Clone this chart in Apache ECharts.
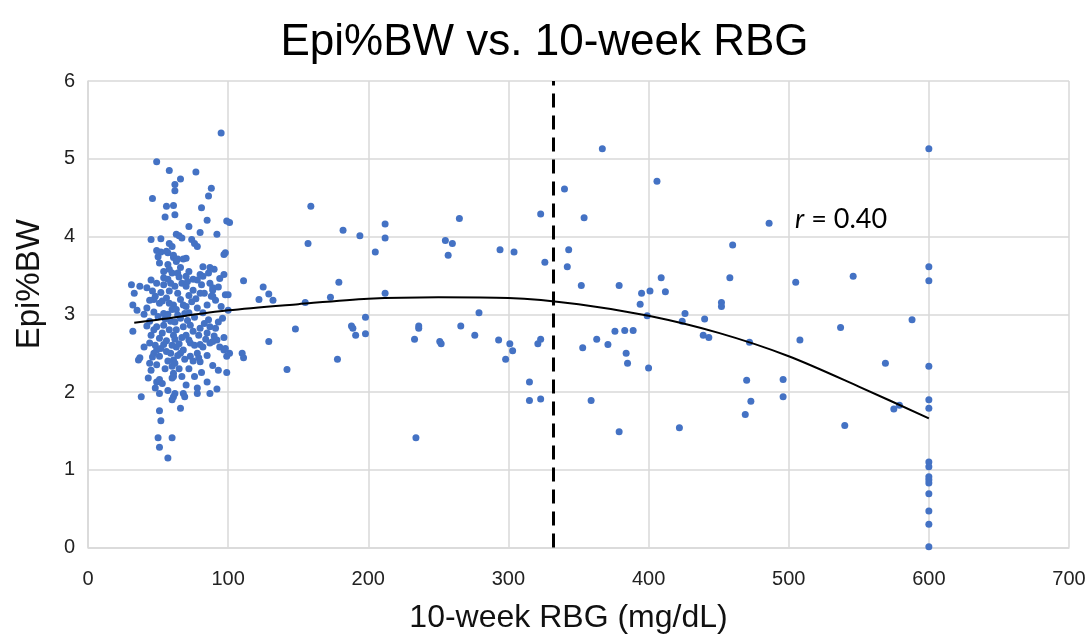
<!DOCTYPE html>
<html>
<head>
<meta charset="utf-8">
<script src="https://cdn.jsdelivr.net/npm/echarts@6/dist/echarts.min.js"></script>
<style>
html,body{margin:0;padding:0;background:#fff;}
#chart{width:1089px;height:636px;}
</style>
</head>
<body>
<div id="chart"></div>
<script>
// ---- data ----
const chartTitle = 'Epi%BW vs. 10-week RBG';
const xAxisName = '10-week RBG (mg/dL)';
const yAxisName = 'Epi%BW';
const xTicks = [0, 100, 200, 300, 400, 500, 600, 700];
const yTicks = [0, 1, 2, 3, 4, 5, 6];

// dense cluster, RBG < ~110
const clusterPoints = [
[95,5.33],[49,4.96],[58,4.85],[77,4.83],[66,4.74],[62,4.67],[62,4.59],[88,4.62],[86,4.52],[46,4.49],
[56,4.39],[61,4.40],[81,4.37],[55,4.25],[62,4.28],[85,4.21],[99,4.20],[101,4.18],[72,4.13],[45,3.96],
[52,3.97],[63,4.03],[65,4.01],[67,3.98],[80,4.05],[92,4.03],[58,3.91],[60,3.87],[74,3.96],[76,3.91],
[78,3.87],[97,3.77],[98,3.79],[52,3.80],[50,3.74],[57,3.79],[61,3.73],[64,3.71],[70,3.72],[68,3.71],
[82,3.61],[87,3.60],[49,3.82],[56,3.81],[61,3.76],[51,3.66],[57,3.64],[63,3.68],[54,3.55],[60,3.53],
[64,3.53],[70,3.49],[80,3.51],[86,3.53],[78,3.44],[82,3.49],[97,3.51],[94,3.46],[31,3.38],[37,3.36],
[42,3.34],[45,3.44],[49,3.40],[54,3.38],[59,3.40],[62,3.36],[67,3.40],[70,3.36],[75,3.31],[81,3.38],
[87,3.40],[89,3.31],[80,3.27],[98,3.25],[100,3.25],[32,3.12],[42,3.08],[47,3.19],[51,3.14],[56,3.21],
[61,3.12],[66,3.19],[70,3.10],[74,3.16],[78,3.08],[85,3.12],[88,3.23],[47,3.03],[54,3.01],[60,3.06],
[64,2.99],[69,3.01],[32,2.78],[44,2.91],[49,2.84],[54,2.86],[59,2.91],[63,2.80],[68,2.84],[73,2.86],
[80,2.82],[86,2.93],[87,2.84],[91,2.82],[45,2.73],[53,2.76],[61,2.73],[70,2.73],[79,2.73],[85,2.76],
[37,2.44],[44,2.63],[49,2.54],[54,2.61],[59,2.50],[63,2.58],[68,2.54],[73,2.63],[78,2.50],[82,2.58],
[87,2.63],[92,2.67],[97,2.54],[99,2.46],[101,2.50],[36,2.41],[47,2.50],[51,2.46],[44,2.37],[49,2.35],
[66,2.50],[73,2.46],[80,2.61],[89,2.65],[94,2.58],[98,2.56],[61,2.41],[43,2.18],[45,2.28],[49,2.13],
[51,2.16],[53,2.11],[48,2.05],[60,2.33],[61,2.24],[62,2.37],[60,2.18],[61,2.20],[67,2.20],[70,2.09],
[80,2.39],[81,2.25],[89,2.34],[93,2.28],[99,2.25],[85,2.13],[92,2.04],[87,1.98],[78,2.05],[78,1.98],
[68,1.98],[69,1.94],[61,1.94],[62,1.98],[60,1.90],[57,2.02],[51,1.98],[38,1.94],[66,1.79],[51,1.76],
[52,1.63],[50,1.41],[60,1.41],[51,1.29],[57,1.15],[33,3.27],[35,3.05],[89,3.34],[89,3.23],
[46,3.30],[52,3.28],[58,3.30],[64,3.27],[72,3.24],[77,3.20],[83,3.27],[91,3.18],
[48,3.23],[53,3.17],[58,3.14],[63,3.06],[68,3.12],[72,3.02],[76,2.96],[82,3.02],
[50,2.97],[55,2.94],[57,3.00],[62,2.90],[66,2.95],[71,2.92],[75,2.78],[83,2.88],
[47,2.80],[51,2.69],[56,2.66],[58,2.80],[62,2.68],[65,2.62],[67,2.70],[72,2.67],[76,2.60],[84,2.68],[90,2.72],
[48,2.60],[52,2.56],[56,2.52],[60,2.60],[64,2.47],[69,2.42],[75,2.40],[79,2.44],[85,2.47],
[54,3.47],[58,3.58],[66,3.60],[72,3.55],[75,3.45],[90,3.58],[93,3.35],[57,3.45],[65,3.48],[71,3.42],
[44,3.18],[40,3.00],[42,2.85],[40,2.58],[46,2.45],[55,2.30],[57,2.40],[65,2.30],[72,2.30],[76,2.20],
[96,2.95],[95,3.10],[100,3.05],[93,2.90],[97,2.70]
];

// scattered points, RBG ~110-330
const midPoints = [
[159,4.39],[111,3.43],[125,3.35],[122,3.19],[129,3.26],[132,3.18],[155,3.15],[157,3.91],[148,2.81],[129,2.65],
[110,2.50],[111,2.44],[142,2.29],[182,4.08],[194,4.01],[179,3.41],[173,3.22],[178,2.42],[188,2.85],[189,2.82],
[191,2.73],[198,2.96],[198,2.75],[212,4.16],[212,3.98],[205,3.80],[212,3.27],[234,1.41],[233,2.68],[236,2.85],
[236,2.82],[251,2.65],[252,2.62],[255,3.95],[260,3.91],[257,3.76],[265,4.23],[266,2.85],[279,3.02],[276,2.73],
[294,3.83],[304,3.80],[293,2.67],[301,2.62],[303,2.53],[298,2.42],[315,2.13],[315,1.89],[323,1.91],[321,2.62],
[323,2.68],[323,4.29],[326,3.67]
];

// scattered points, RBG ~330-600
const highPoints = [
[367,5.13],[340,4.61],[354,4.24],[406,4.71],[486,4.17],[460,3.89],[343,3.83],[342,3.61],[352,3.37],[379,3.37],
[409,3.47],[458,3.47],[395,3.27],[401,3.30],[412,3.29],[505,3.41],[546,3.49],[394,3.13],[452,3.15],[452,3.10],
[426,3.01],[440,2.94],[424,2.91],[399,2.98],[588,2.93],[537,2.83],[363,2.68],[376,2.78],[383,2.79],[389,2.79],
[353,2.57],[371,2.61],[439,2.73],[443,2.70],[472,2.64],[508,2.67],[384,2.50],[385,2.37],[400,2.31],[569,2.37],
[470,2.15],[496,2.16],[473,1.88],[496,1.94],[469,1.71],[359,1.89],[379,1.49],[422,1.54],[540,1.57],[575,1.78],
[579,1.83]
];

// RBG capped at 600
const cappedPoints = [
[600,5.13],[600,3.61],[600,3.43],[600,2.33],[600,1.90],[600,1.79],[600,1.10],[600,1.04],[600,0.91],[600,0.87],
[600,0.83],[600,0.69],[600,0.47],[600,0.30],[600,0.01]
];

// polynomial trendline
const trendX = [33, 50, 100, 150, 200, 250, 300, 350, 400, 450, 500, 550, 600];
const trendY = [2.89, 2.93, 3.05, 3.13, 3.20, 3.22, 3.21, 3.13, 2.98, 2.76, 2.46, 2.07, 1.66];

const thresholdX = 332;
const rLabel = '0.40';

// ---- chart ----
const chart = echarts.init(document.getElementById('chart'), null, {renderer: 'canvas'});
const allPoints = clusterPoints.concat(midPoints, highPoints, cappedPoints);
const trendData = trendX.map((x, i) => [x, trendY[i]]);

const option = {
  backgroundColor: '#ffffff',
  animation: false,
  title: {
    text: chartTitle,
    left: 'center',
    top: 16,
    textStyle: {fontFamily: 'Liberation Sans', fontSize: 44, fontWeight: 'normal', color: '#000'}
  },
  grid: {left: 88, right: 20, top: 81, bottom: 88.5, containLabel: false, outerBoundsMode: 'none'},
  xAxis: {
    type: 'value',
    min: xTicks[0], max: xTicks[xTicks.length - 1], interval: 100,
    name: xAxisName,
    nameLocation: 'middle',
    nameGap: 55,
    nameTextStyle: {fontFamily: 'Liberation Sans', fontSize: 32, color: '#111', padding: [0, 20, 0, 0]},
    axisLine: {show: true, lineStyle: {color: '#d9d9d9', width: 1.5}},
    axisTick: {show: false},
    axisLabel: {margin: 22, fontFamily: 'Liberation Sans', fontSize: 20, color: '#222'},
    splitLine: {show: true, lineStyle: {color: '#d9d9d9', width: 1.5}}
  },
  yAxis: {
    type: 'value',
    min: yTicks[0], max: yTicks[yTicks.length - 1], interval: 1,
    name: yAxisName,
    nameLocation: 'middle',
    nameGap: 42,
    nameTextStyle: {fontFamily: 'Liberation Sans', fontSize: 33, color: '#111', padding: [0, 0, 0, 60]},
    axisLine: {show: true, lineStyle: {color: '#d9d9d9', width: 1.5}},
    axisTick: {show: false},
    axisLabel: {margin: 13, fontFamily: 'Liberation Sans', fontSize: 20, color: '#222'},
    splitLine: {show: true, lineStyle: {color: '#d9d9d9', width: 1.5}}
  },
  series: [
    {
      type: 'scatter',
      data: allPoints,
      symbol: 'circle',
      symbolSize: 7,
      itemStyle: {color: '#4472c4', opacity: 1},
      z: 2
    },
    {
      type: 'line',
      data: trendData,
      smooth: 0.3,
      showSymbol: false,
      lineStyle: {color: '#000', width: 2},
      z: 3,
      markLine: {
        silent: true,
        symbol: ['none', 'none'],
        label: {show: false},
        lineStyle: {color: '#000', width: 3, type: [14, 8]},
        data: [{xAxis: thresholdX}]
      }
    }
  ],
  graphic: [
    {
      type: 'text',
      left: 795,
      top: 206,
      z: 10,
      style: {
        text: '{i|r} = ' + rLabel,
        fontFamily: 'Lato',
        fontSize: 27,
        fill: '#000',
        rich: {i: {fontStyle: 'italic', fontFamily: 'Lato', fontSize: 27, fill: '#000'}}
      }
    }
  ]
};
chart.setOption(option);
</script>
</body>
</html>
